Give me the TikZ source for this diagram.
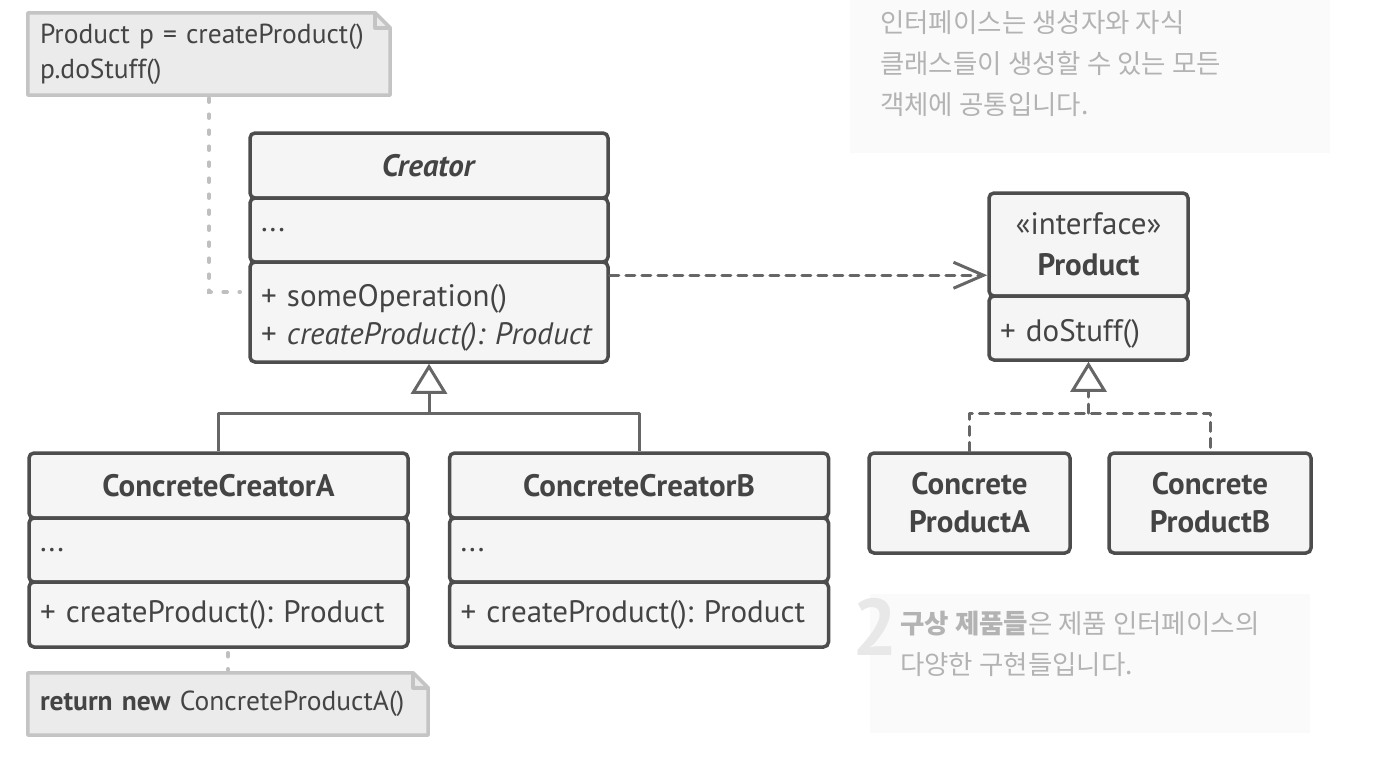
\documentclass[tikz,border=0pt]{standalone}
\usepackage{fontspec}
\setmainfont{PT Sans}
\newfontfamily\krfont{Noto Sans CJK KR}
\usetikzlibrary{arrows.meta, backgrounds}
\definecolor{boxLine} {HTML}{4D4D4D}
\definecolor{boxFill} {HTML}{F5F5F5}
\definecolor{boxText} {HTML}{444444}
\definecolor{linkGray}{HTML}{666666}
\definecolor{noteLine}{HTML}{C4C4C4}
\definecolor{noteFill}{HTML}{EBEBEB}
\definecolor{noteLink}{HTML}{BFBFBF}
\definecolor{hintFill}{HTML}{FAFAFA}
\definecolor{hintText}{HTML}{B3B3B3}
\definecolor{hintNum} {HTML}{E8E8E8}
\frenchspacing
\tikzset{
  umlcell/.style={draw=boxLine, fill=boxFill, line width=3.5pt,
    rounded corners=5pt, text=boxText, inner xsep=11pt, inner ysep=0pt,
    font=\fontsize{31}{38}\selectfont},
  notetext/.style={text=boxText, align=left, inner xsep=12pt, inner ysep=0pt,
    font=\fontsize{27.5}{35}\selectfont},
  notebox/.style={draw=noteLine, fill=noteFill, line width=3.5pt, line join=round},
  notelink/.style={draw=noteLink, line width=3.5pt, line cap=round,
    dash pattern=on 4pt off 12pt},
  genline/.style={draw=linkGray, line width=3pt, line join=round},
  inherit/.style={genline, -{Triangle[open, length=30pt, width=36pt]}},
  realline/.style={genline, line cap=round, dash pattern=on 9pt off 7pt},
  realize/.style={realline, -{Triangle[open, length=30pt, width=36pt]}},
  depend/.style={realline, -{Straight Barb[length=30pt, width=26pt]}},
  hintbox/.style={fill=hintFill, inner sep=0pt},
  hinttext/.style={text=hintText, align=left, inner sep=0pt,
    font=\krfont\fontsize{26.5}{41}\selectfont},
}
\newcommand{\classpart}[7]{%
  \node[umlcell, align=#2, minimum width=#5pt, minimum height=#6pt,
    text width=\dimexpr #5pt-22pt\relax] (#1) at (#3,#4) {#7};%
}
% taller first line, pushes a two-line block a little down
\newcommand{\lowstrut}{\rule{0pt}{33pt}}

\begin{document}
\begin{tikzpicture}[x=1pt, y=-1pt]
\useasboundingbox (0,0) rectangle (1376,756);

% --- HINTS ---
\node[hintbox, minimum width=480pt, minimum height=170pt] (hintTop) at (1090,68) {};
\node[hinttext, anchor=north west] (hintTopText) at (880,10)
  {인터페이스는 생성자와 자식\\클래스들이 생성할 수 있는 모든\\객체에 공통입니다.};
\node[hintbox, minimum width=440pt, minimum height=139pt] (hintBottom) at (1090,663.5) {};
\node[text=hintNum, anchor=base west, inner sep=0pt,
  font=\bfseries\fontsize{80}{80}\selectfont] (hintNum) at (852,655) {2};
\node[hinttext, anchor=north west] (hintBottomText) at (900,611)
  {\textbf{구상 제품들}은 제품 인터페이스의\\다양한 구현들입니다.};

% --- CLASSES ---
% Creator
\classpart{creatorName}{center}{429}{165.5}{358}{65}{\textbf{\textit{Creator}}}
\classpart{creatorAttr}{left}  {429}{230}  {358}{64}{...}
\classpart{creatorOps} {left}  {429}{312}  {358}{100}
  {\lowstrut+ someOperation()\\+ \textit{createProduct(): Product}}
% Product
\classpart{productName}{center}{1088.5}{244.5}{199}{103}{«interface»\\[3pt]\textbf{Product}}
\classpart{productOps} {left}  {1088.5}{328}  {199}{64}{\lowstrut+ doStuff()}
% ConcreteCreatorA
\classpart{ccaName}{center}{218.5}{485.5}{379}{65}{\textbf{ConcreteCreatorA}}
\classpart{ccaAttr}{left}  {218.5}{550}  {379}{64}{...}
\classpart{ccaOps} {left}  {218.5}{614.5}{379}{65}{+ createProduct(): Product}
% ConcreteCreatorB
\classpart{ccbName}{center}{639}{485.5}{379}{65}{\textbf{ConcreteCreatorB}}
\classpart{ccbAttr}{left}  {639}{550}  {379}{64}{...}
\classpart{ccbOps} {left}  {639}{614.5}{379}{65}{+ createProduct(): Product}
% Concrete products
\classpart{cpaBox}{center}{969.5}{503}{201}{100}{\textbf{Concrete}\\\textbf{ProductA}}
\classpart{cpbBox}{center}{1210} {503}{202}{100}{\textbf{Concrete}\\\textbf{ProductB}}

% --- NOTES ---
\node[notetext, minimum width=362pt, minimum height=82pt, text width=338pt]
  (noteUse) at (209,54) {Product p = createProduct()\\p.doStuff()};
\node[notetext, minimum width=400pt, minimum height=62pt, text width=376pt]
  (noteReturn) at (228,704) {\textbf{return new} ConcreteProductA()};
\begin{scope}[on background layer]
  \foreach \nt in {noteUse, noteReturn}{
    \filldraw[notebox] (\nt.north west) -- ([xshift=-15pt]\nt.north east)
      -- ([yshift=-15pt]\nt.north east) -- (\nt.south east)
      -- (\nt.south west) -- cycle;
    \draw[notebox, fill=none] ([xshift=-15pt]\nt.north east)
      |- ([yshift=-15pt]\nt.north east);
  }
\end{scope}
\draw[notelink, shorten <=3pt, shorten >=8pt]
  (noteUse.south) |- ([yshift=20pt]creatorOps.west);
\draw[notelink, shorten <=4pt, shorten >=3pt]
  (noteReturn.north |- ccaOps.south) -- (noteReturn.north);

% --- LINKS ---
\coordinate (creatorJoin) at (429,413);
\draw[inherit] (creatorJoin) -- (creatorOps.south);
\draw[genline] (ccaName.north) |- (creatorJoin) -| (ccbName.north);

\coordinate (productJoin) at (1088.5,413);
\draw[realize] (productJoin) -- (productOps.south);
\draw[realline] (cpaBox.north) |- (productJoin) -| (cpbBox.north);

\draw[depend] ([yshift=-15pt]creatorOps.north east)
  -- ([yshift=-15pt]creatorOps.north east -| productName.west);

\end{tikzpicture}
\end{document}
